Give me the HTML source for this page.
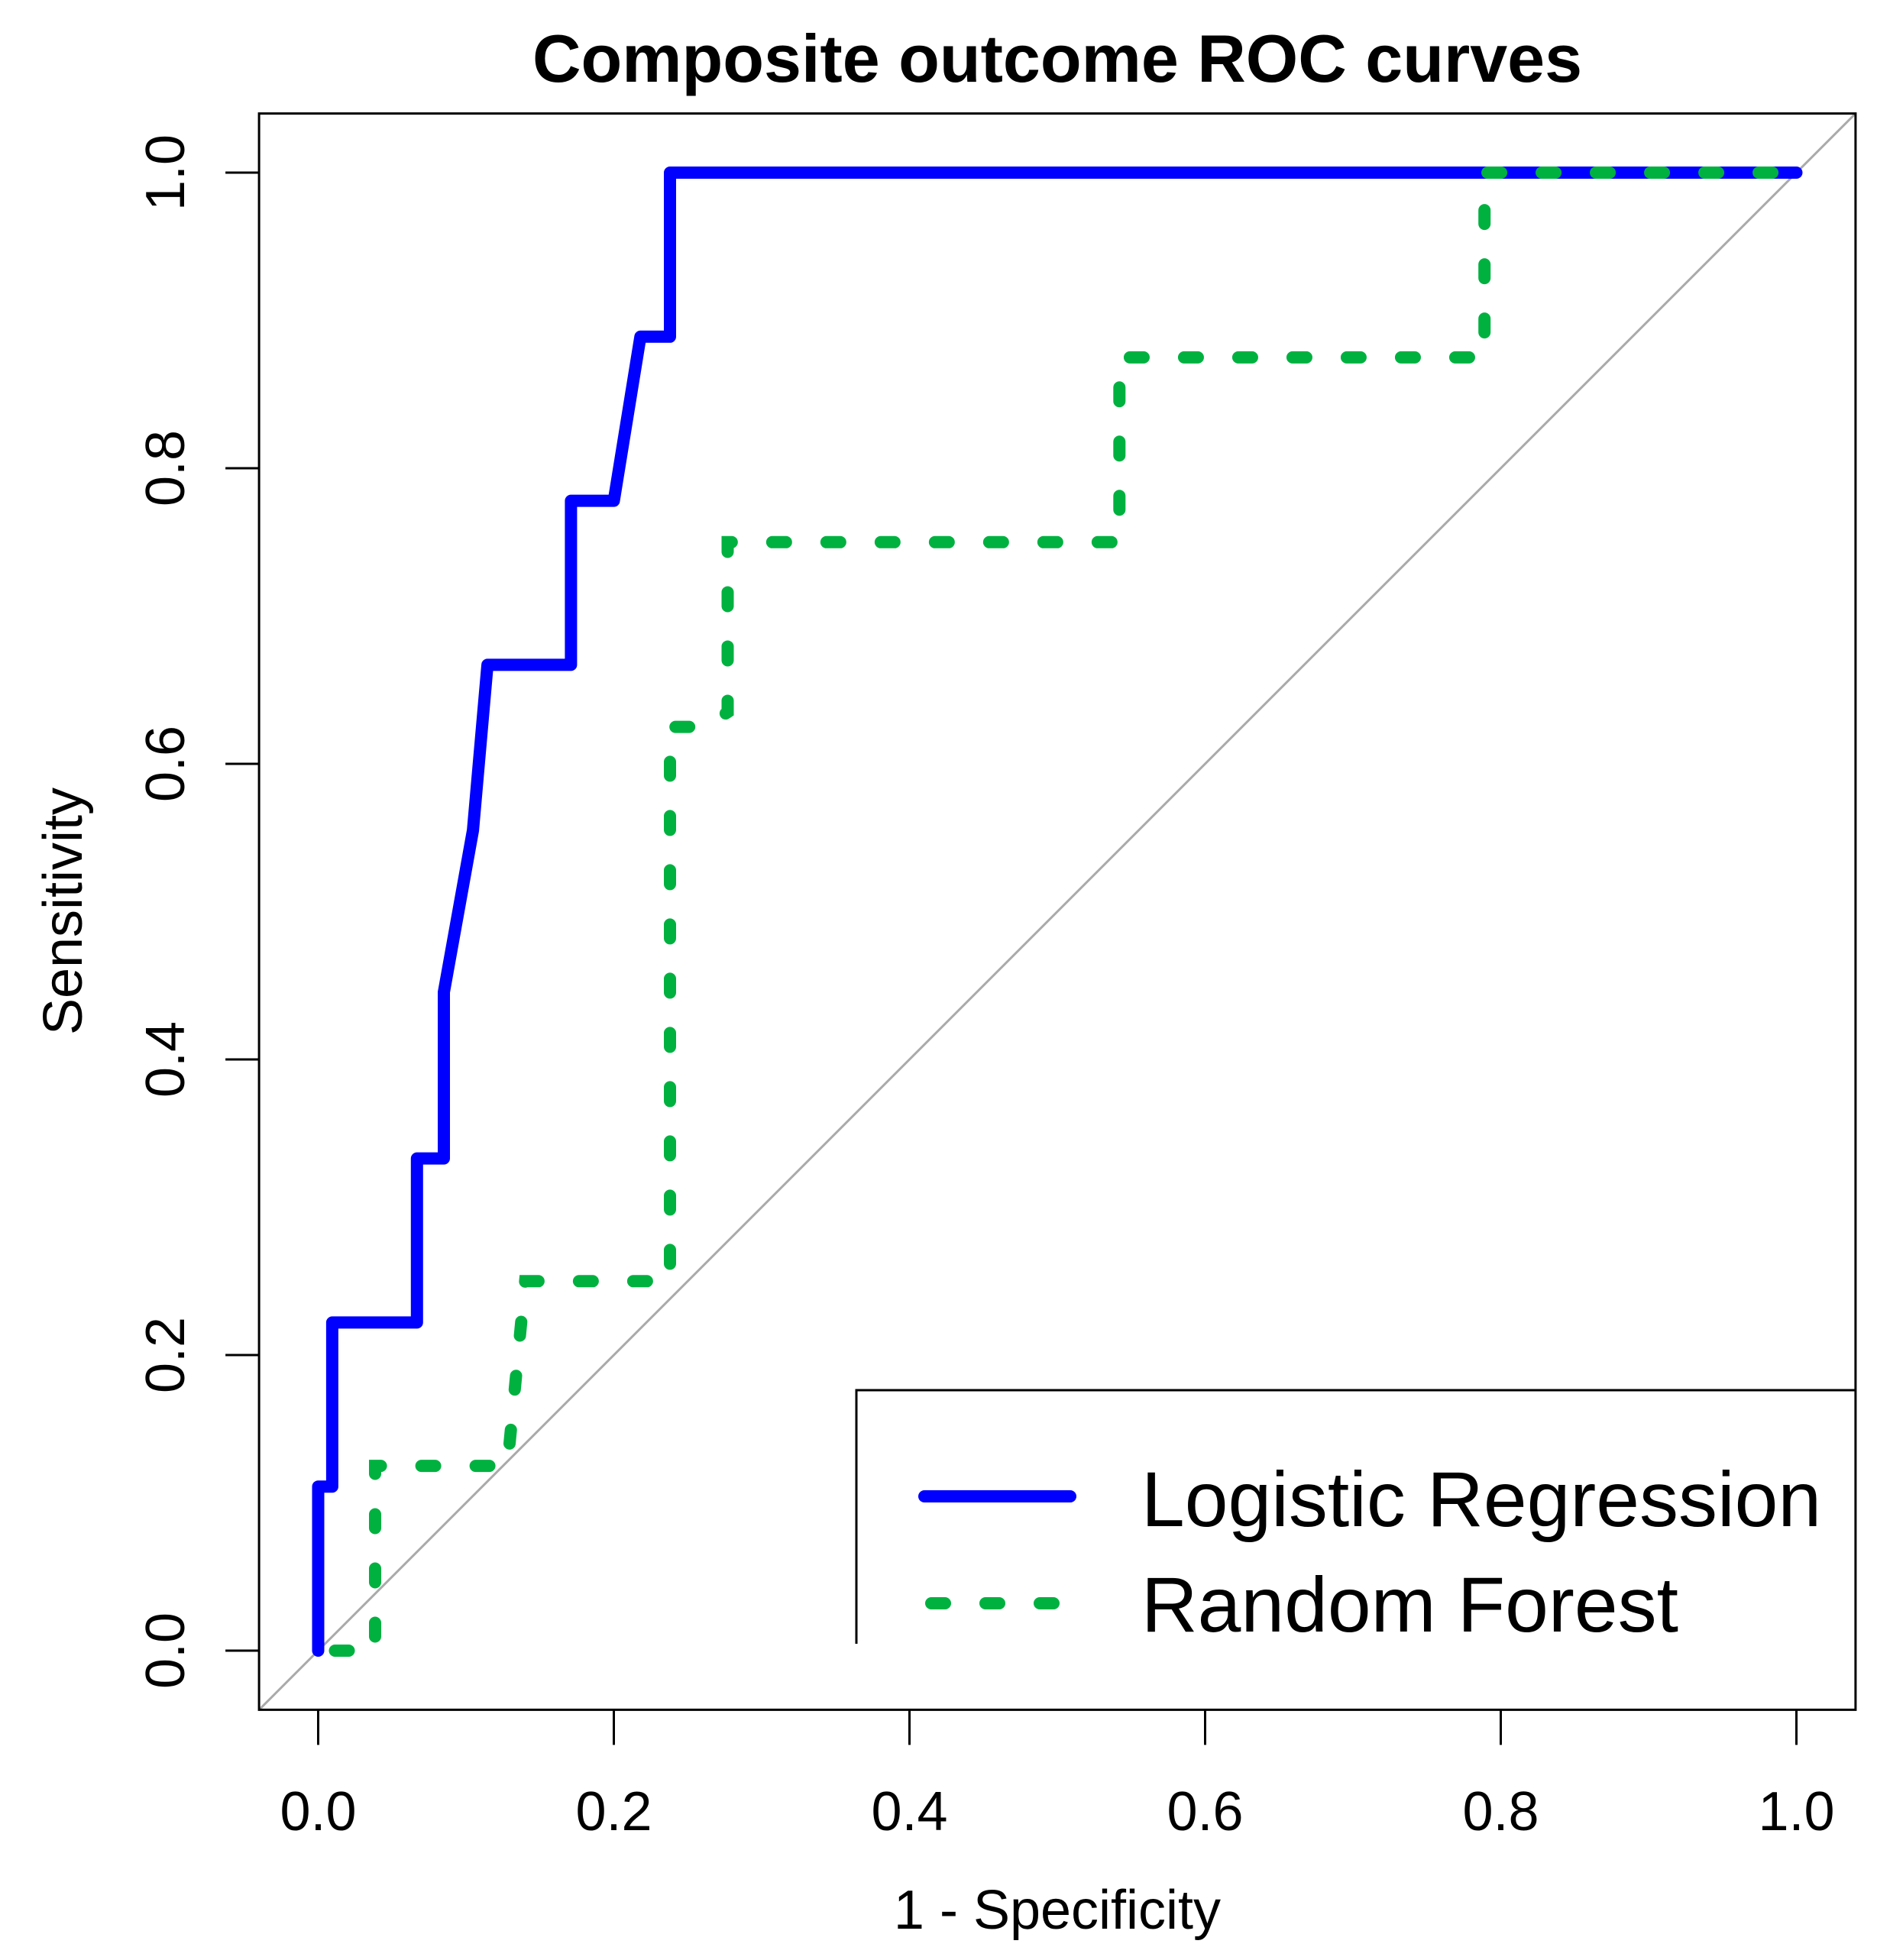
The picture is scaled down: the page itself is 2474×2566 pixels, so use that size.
<!DOCTYPE html>
<html><head><meta charset="utf-8"><style>
html,body{margin:0;padding:0;background:#fff}
svg{display:block}
text{font-family:"Liberation Sans",Arial,sans-serif;fill:#000}
</style></head><body>
<svg id="chart" width="2474" height="2566" viewBox="0 0 2474 2566" xmlns="http://www.w3.org/2000/svg">
<text x="1384" y="107" font-size="88" font-weight="bold" text-anchor="middle">Composite outcome ROC curves</text>
<g id="plot"></g>
<text x="1384" y="2525" font-size="72" text-anchor="middle">1 - Specificity</text>
<text transform="translate(107,1193) rotate(-90)" font-size="72" text-anchor="middle">Sensitivity</text>
<g>
  <path d="M1121 2152 V1820 H2429" fill="none" stroke="#000" stroke-width="3"/>
  <line x1="1210" y1="1959" x2="1401" y2="1959" stroke="#0000ff" stroke-width="16" stroke-linecap="round"/>
  <line x1="1219" y1="2099" x2="1401" y2="2099" stroke="#00b140" stroke-width="16" stroke-linecap="round" stroke-dasharray="18 53"/>
  <text x="1494" y="1998" font-size="102">Logistic Regression</text>
  <text x="1494" y="2136" font-size="102">Random Forest</text>
</g>
</svg>
<script>
const xTicks = [0, 0.2, 0.4, 0.6, 0.8, 1.0];
const xTickLabels = ["0.0", "0.2", "0.4", "0.6", "0.8", "1.0"];
const yTicks = [0, 0.2, 0.4, 0.6, 0.8, 1.0];
const yTickLabels = ["0.0", "0.2", "0.4", "0.6", "0.8", "1.0"];
const lrFpr = [0, 0, 0.0095, 0.0095, 0.0668, 0.0668, 0.085, 0.085, 0.1047, 0.1145, 0.171, 0.171, 0.200, 0.218, 0.238, 0.238, 1.0];
const lrTpr = [0, 0.111, 0.111, 0.222, 0.222, 0.333, 0.333, 0.4455, 0.555, 0.667, 0.667, 0.778, 0.778, 0.889, 0.889, 1.0, 1.0];
const rfFpr = [0, 0.0385, 0.0385, 0.128, 0.140, 0.238, 0.238, 0.262, 0.277, 0.277, 0.542, 0.542, 0.789, 0.789, 1.0];
const rfTpr = [0, 0, 0.125, 0.125, 0.25, 0.25, 0.625, 0.625, 0.635, 0.75, 0.75, 0.875, 0.875, 1.0, 1.0];

const NS = "http://www.w3.org/2000/svg";
const X0 = 416.5, Y0 = 2161, U = 1935;
const sx = v => X0 + v * U;
const sy = v => Y0 - v * U;
const plot = document.getElementById('plot');
function mk(tag, attrs) {
  const e = document.createElementNS(NS, tag);
  for (const k in attrs) e.setAttribute(k, attrs[k]);
  plot.appendChild(e);
  return e;
}
let diag = mk('line', {x1: sx(-0.04), y1: sy(-0.04), x2: sx(1.04), y2: sy(1.04), stroke: '#aaaaaa', 'stroke-width': 3});


let box = mk('rect', {x: sx(-0.04), y: sy(1.04), width: sx(1.04) - sx(-0.04), height: sy(-0.04) - sy(1.04), fill: 'none', stroke: '#000', 'stroke-width': 3});


xTicks.forEach((v, i) => {
  const t = mk('line', {x1: sx(v), y1: sy(-0.04), x2: sx(v), y2: sy(-0.04) + 46, stroke: '#000', 'stroke-width': 3});
  
  
  const l = mk('text', {x: sx(v), y: 2396, 'font-size': 72, 'text-anchor': 'middle'});
  l.textContent = xTickLabels[i];
  
  
});
yTicks.forEach((v, i) => {
  const t = mk('line', {x1: sx(-0.04), y1: sy(v), x2: sx(-0.04) - 44, y2: sy(v), stroke: '#000', 'stroke-width': 3});
  
  
  const l = mk('text', {transform: 'translate(241,' + sy(v) + ') rotate(-90)', 'font-size': 72, 'text-anchor': 'middle'});
  l.textContent = yTickLabels[i];
  
  
});
function pathD(xs, ys) {
  return xs.map((x, i) => (i ? 'L' : 'M') + sx(x).toFixed(1) + ' ' + sy(ys[i]).toFixed(1)).join(' ');
}
let lr = mk('path', {d: pathD(lrFpr, lrTpr), fill: 'none', stroke: '#0000ff', 'stroke-width': 16, 'stroke-linejoin': 'round', 'stroke-linecap': 'round'});


let rf = mk('path', {d: pathD(rfFpr, rfTpr), fill: 'none', stroke: '#00b140', 'stroke-width': 16, 'stroke-linecap': 'round', 'stroke-dasharray': '18 53', 'stroke-dashoffset': '-22'});


</script>
</body></html>
